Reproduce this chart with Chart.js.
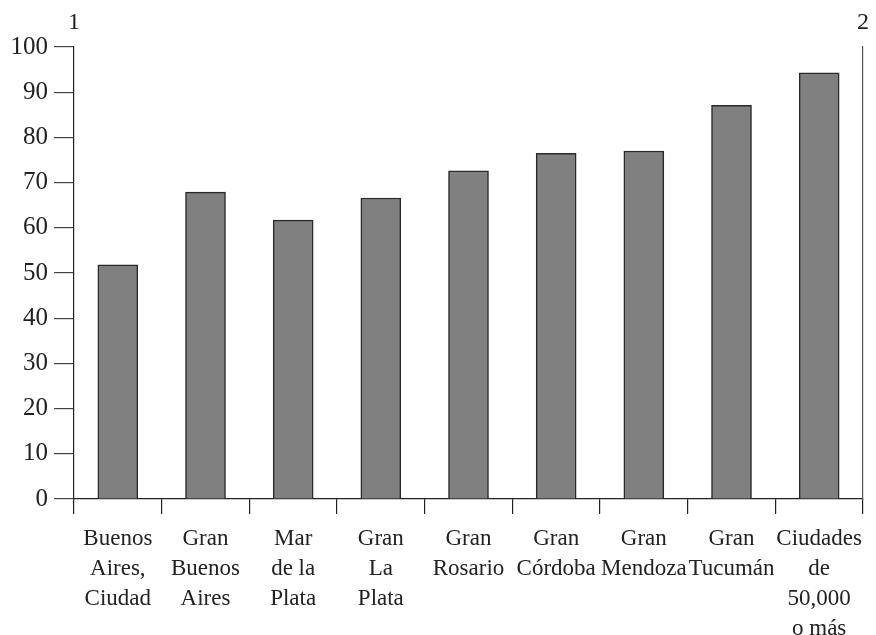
<!DOCTYPE html>
<html>
<head>
<meta charset="utf-8">
<script src="https://cdn.jsdelivr.net/npm/chart.js@4"></script>
<style>
  html, body { margin: 0; padding: 0; background: #fff; }
  #wrap { width: 876px; height: 635px; }
</style>
</head>
<body>
<div id="wrap"><canvas id="chart" width="876" height="635"></canvas></div>
<script>
// categories (multi-line labels) and values
const categories = [
    ['Buenos', 'Aires,', 'Ciudad'],
    ['Gran', 'Buenos', 'Aires'],
    ['Mar', 'de la', 'Plata'],
    ['Gran', 'La', 'Plata'],
    ['Gran', 'Rosario'],
    ['Gran', 'Córdoba'],
    ['Gran', 'Mendoza'],
    ['Gran', 'Tucumán'],
    ['Ciudades', 'de', '50,000', 'o más']
];
const values = [51.8, 67.9, 61.7, 66.6, 72.6, 76.5, 77.0, 87.1, 94.3];
const yTicks = [0, 10, 20, 30, 40, 50, 60, 70, 80, 90, 100];
const cornerLabels = ['1', '2'];

const serif = "'Liberation Serif', 'DejaVu Serif', serif";
const ink = '#222';

// draws the "1" and "2" above the two vertical axes
const cornerPlugin = {
    id: 'corners',
    afterDraw(chart) {
        const ctx = chart.ctx;
        const area = chart.chartArea;
        ctx.save();
        ctx.fillStyle = ink;
        ctx.font = '24px ' + serif;
        ctx.textAlign = 'center';
        ctx.textBaseline = 'middle';
        ctx.fillText(cornerLabels[0], area.left, 23);
        ctx.fillText(cornerLabels[1], area.right, 23);
        ctx.restore();
    }
};

const ctx = document.getElementById('chart').getContext('2d');
new Chart(ctx, {
    type: 'bar',
    data: {
        labels: categories,
        datasets: [{
            data: values,
            backgroundColor: '#808080',
            borderColor: '#2a2a2a',
            borderWidth: 1.5,
            barThickness: 40
        }]
    },
    options: {
        responsive: false,
        animation: false,
        layout: { padding: { top: 47, left: 0, right: 0, bottom: 0 } },
        plugins: {
            legend: { display: false },
            tooltip: { enabled: false }
        },
        scales: {
            x: {
                grid: {
                    offset: true,
                    drawOnChartArea: false,
                    drawTicks: true,
                    tickLength: 15,
                    color: ink,
                    lineWidth: 1.2
                },
                border: { display: true, color: ink, width: 1.2 },
                ticks: {
                    color: ink,
                    font: { family: serif, size: 23, lineHeight: 1.3 },
                    padding: 10,
                    maxRotation: 0,
                    autoSkip: false
                },
                afterFit(scale) { scale.height = 136; }
            },
            y: {
                min: 0,
                max: 100,
                afterBuildTicks(scale) { scale.ticks = yTicks.map(v => ({ value: v })); },
                grid: {
                    drawOnChartArea: false,
                    drawTicks: true,
                    tickLength: 20,
                    color: '#444',
                    lineWidth: 1.2
                },
                border: { display: true, color: ink, width: 1.2 },
                ticks: {
                    color: ink,
                    font: { family: serif, size: 25 },
                    padding: 6
                },
                afterFit(scale) { scale.width = 74; }
            },
            y2: {
                position: 'right',
                min: 0,
                max: 100,
                grid: { display: false },
                border: { display: true, color: '#555', width: 1.2 },
                ticks: { display: false },
                afterFit(scale) { scale.width = 13; }
            }
        }
    },
    plugins: [cornerPlugin]
});
</script>
</body>
</html>
